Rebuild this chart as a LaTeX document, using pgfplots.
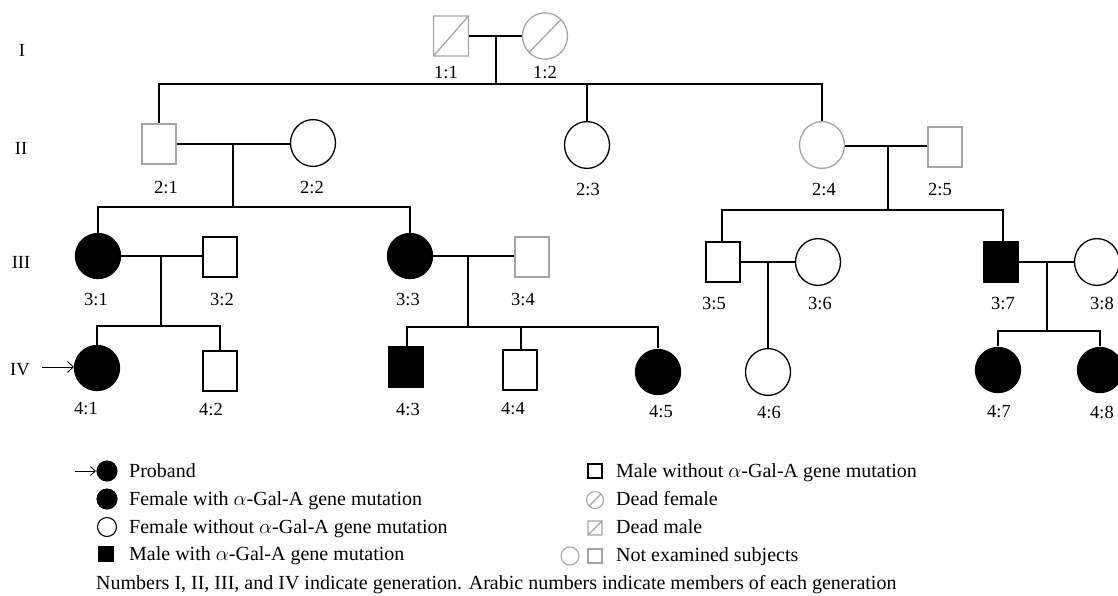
\documentclass[border=0pt]{standalone}
\usepackage{fontspec}
\setmainfont{Liberation Serif}
\usepackage{pgfplots}
\pgfplotsset{compat=1.18}
\usetikzlibrary{arrows.meta}
\definecolor{nogrey}{RGB}{165,165,165}
\tikzset{leg/.style={anchor=base west, font=\fontsize{20}{24}\selectfont}}
\pgfdeclareplotmark{dsquare}{%
  \pgfpathrectangle{\pgfqpoint{-\pgfplotmarksize}{-\pgfplotmarksize}}{\pgfqpoint{2\pgfplotmarksize}{2\pgfplotmarksize}}%
  \pgfpathmoveto{\pgfqpoint{-\pgfplotmarksize}{-\pgfplotmarksize}}%
  \pgfpathlineto{\pgfqpoint{\pgfplotmarksize}{\pgfplotmarksize}}%
  \pgfusepathqstroke}
\pgfdeclareplotmark{dcircle}{%
  \pgfpathcircle{\pgfpointorigin}{\pgfplotmarksize}%
  \pgfpathmoveto{\pgfpointpolar{225}{\pgfplotmarksize}}%
  \pgfpathlineto{\pgfpointpolar{45}{\pgfplotmarksize}}%
  \pgfusepathqstroke}
\begin{document}
\begin{tikzpicture}
\begin{axis}[
  width=1118pt, height=595pt, scale only axis,
  xmin=0, xmax=1118, ymin=0, ymax=595, y dir=reverse,
  hide axis, clip=false,
  every axis plot/.append style={line width=1.1pt},
  nodes={font=\fontsize{18.5}{22}\selectfont, inner sep=0pt},
]
% ---------- connecting lines ----------
\addplot[black] coordinates {(469,36) (523,36)};
\addplot[black] coordinates {(496,36) (496,84)};
\addplot[black] coordinates {(159,124) (159,84) (822,84) (822,122)};
\addplot[black] coordinates {(587,84) (587,121)};
\addplot[black] coordinates {(176,144) (291,144)};
\addplot[black] coordinates {(233,144) (233,207)};
\addplot[black] coordinates {(98,234) (98,207) (410,207) (410,234)};
\addplot[black] coordinates {(120,256) (203,256)};
\addplot[black] coordinates {(161,256) (161,326)};
\addplot[black] coordinates {(97,345) (97,326) (220,326) (220,351)};
\addplot[black] coordinates {(433,256) (515,256)};
\addplot[black] coordinates {(468,256) (468,327)};
\addplot[black] coordinates {(407,347) (407,327) (658,327) (658,348)};
\addplot[black] coordinates {(521,327) (521,350)};
\addplot[black] coordinates {(845,146) (928,146)};
\addplot[black] coordinates {(888,146) (888,210)};
\addplot[black] coordinates {(722,242) (722,210) (1003,210) (1003,242)};
\addplot[black] coordinates {(740,262) (796,262)};
\addplot[black] coordinates {(768,262) (768,349)};
\addplot[black] coordinates {(1018,262) (1075,262)};
\addplot[black] coordinates {(1047,262) (1047,331)};
\addplot[black] coordinates {(998,346) (998,331) (1100,331) (1100,346)};
% arrows
\addplot[black, line width=0.9pt, -{Straight Barb[length=6pt,width=11pt]}] coordinates {(42,367) (74,367)};
\addplot[black, line width=0.8pt, -{Straight Barb[length=5pt,width=9pt]}] coordinates {(75,471) (96,471)};
% ---------- symbols ----------
% dead (grey, slashed)
\addplot[only marks, nogrey, mark=dsquare, mark size=17.5, mark options={line width=1.3pt, yscale=1.14}] coordinates {(451,36)};
\addplot[only marks, nogrey, mark=dcircle, mark size=22.5, mark options={line width=1.3pt, yscale=1.03}] coordinates {(545,36)};
% not examined grey
\addplot[only marks, mark=square*, mark size=17, mark options={draw=nogrey, fill=white, line width=1.3pt, yscale=1.18}] coordinates {(159,144) (945,147) (532,257)};
\addplot[only marks, mark=*, mark size=22.5, mark options={draw=nogrey, fill=white, line width=1.3pt, yscale=1.04}] coordinates {(822,145)};
% open black
\addplot[only marks, mark=*, mark size=22.5, mark options={draw=black, fill=white, line width=1.3pt, yscale=1.04}] coordinates {(313,143) (587,145) (818,262) (1097,262) (768,372)};
\addplot[only marks, mark=square*, mark size=17, mark options={draw=black, fill=white, line width=1.3pt, yscale=1.18}] coordinates {(220,257) (723,262) (220,371) (520,370)};
% filled
\addplot[only marks, mark=*, mark size=22.5, mark options={draw=black, fill=black, line width=1.3pt}] coordinates {(98,256) (410,256) (97,368) (658,372) (998,370) (1100,370)};
\addplot[only marks, mark=square*, mark size=17, mark options={draw=black, fill=black, line width=1.3pt, yscale=1.18}] coordinates {(1001,262) (406,367)};
% ---------- legend symbols ----------
\addplot[only marks, mark=*, mark size=10, mark options={draw=black, fill=black}] coordinates {(107,471) (107,499)};
\addplot[only marks, mark=*, mark size=9.5, mark options={draw=black, fill=white, line width=1.1pt}] coordinates {(107,527)};
\addplot[only marks, mark=square*, mark size=7.5, mark options={draw=black, fill=black}] coordinates {(106,554)};
\addplot[only marks, mark=square, mark size=7, mark options={draw=black, line width=1.1pt}] coordinates {(595,471)};
\addplot[only marks, nogrey, mark=dcircle, mark size=8.5, mark options={line width=1.1pt}] coordinates {(595,500)};
\addplot[only marks, nogrey, mark=dsquare, mark size=7, mark options={line width=1.1pt}] coordinates {(595,528)};
\addplot[only marks, mark=*, mark size=9, mark options={draw=nogrey, fill=white, line width=1.1pt}] coordinates {(570,556)};
\addplot[only marks, mark=square, mark size=7, mark options={draw=nogrey, line width=1.1pt}] coordinates {(595,556)};
% ---------- texts ----------
\node at (axis cs:22,50) {I};
\node at (axis cs:21,148) {II};
\node at (axis cs:21,262) {III};
\node at (axis cs:20,370) {IV};
\node at (axis cs:446,73) {1:1};
\node at (axis cs:545,73) {1:2};
\node at (axis cs:166,188) {2:1};
\node at (axis cs:312,188) {2:2};
\node at (axis cs:588,190) {2:3};
\node at (axis cs:824,190) {2:4};
\node at (axis cs:940,190) {2:5};
\node at (axis cs:96,299) {3:1};
\node at (axis cs:222,299) {3:2};
\node at (axis cs:408,299) {3:3};
\node at (axis cs:523,299) {3:4};
\node at (axis cs:714,303) {3:5};
\node at (axis cs:820,303) {3:6};
\node at (axis cs:1003,303) {3:7};
\node at (axis cs:1102,303) {3:8};
\node at (axis cs:86,409) {4:1};
\node at (axis cs:211,409) {4:2};
\node at (axis cs:408,409) {4:3};
\node at (axis cs:513,409) {4:4};
\node at (axis cs:661,412) {4:5};
\node at (axis cs:769,412) {4:6};
\node at (axis cs:999,412) {4:7};
\node at (axis cs:1102,412) {4:8};
\node[leg] at (axis cs:129,477) {Proband};
\node[leg] at (axis cs:129,505) {Female with $\alpha$-Gal-A gene mutation};
\node[leg] at (axis cs:129,533) {Female without $\alpha$-Gal-A gene mutation};
\node[leg] at (axis cs:129,560) {Male with $\alpha$-Gal-A gene mutation};
\node[leg] at (axis cs:616,477) {Male without $\alpha$-Gal-A gene mutation};
\node[leg] at (axis cs:616,505) {Dead female};
\node[leg] at (axis cs:616,533) {Dead male};
\node[leg] at (axis cs:616,561) {Not examined subjects};
\node[leg] at (axis cs:96,589) {Numbers I, II, III, and IV indicate generation. Arabic numbers indicate members of each generation};
\end{axis}
\pgfresetboundingbox
\useasboundingbox (current axis.south west) rectangle (current axis.north east);
\end{tikzpicture}
\end{document}
